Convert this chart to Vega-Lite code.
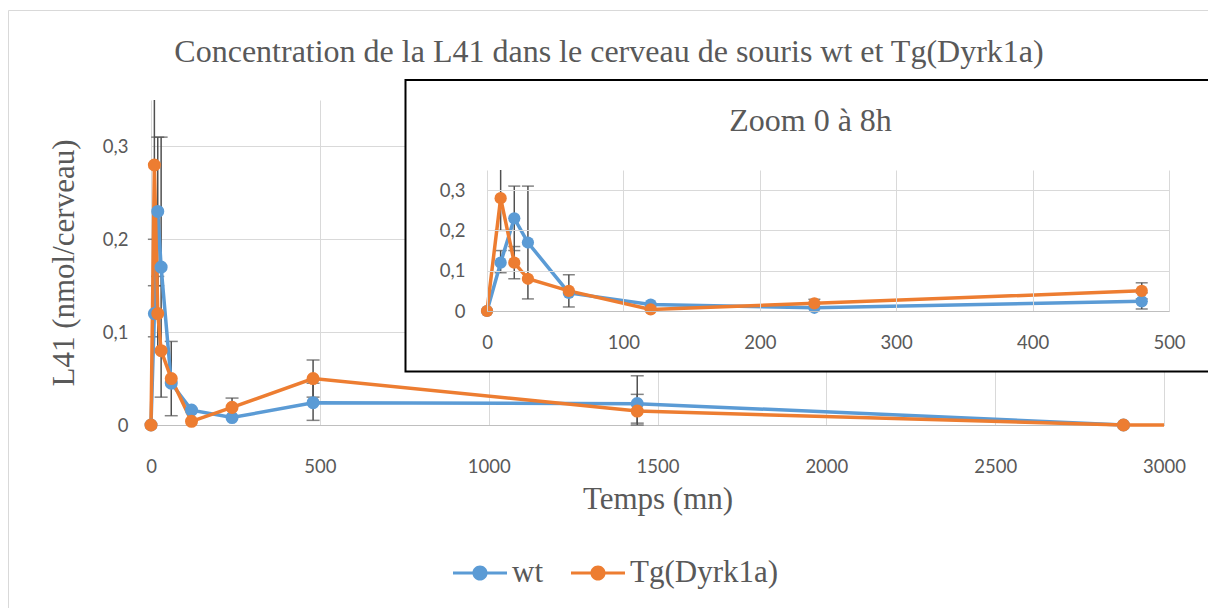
{
  "$schema": "https://vega.github.io/schema/vega-lite/v6.json",
  "background": "white",
  "width": 1013,
  "height": 325,
  "autosize": {"type": "none"},
  "padding": {"left": 151, "top": 100, "right": 44, "bottom": 183},
  "title": {
    "text": "Concentration de la L41 dans le cerveau de souris wt et Tg(Dyrk1a)",
    "font": "Liberation Serif", "fontSize": 32, "fontWeight": "normal", "color": "#595959",
    "anchor": "middle", "frame": "group", "dx": -48.5, "baseline": "alphabetic", "offset": -84
  },
  "datasets": {
    "d": [
      {"t": 0, "serie": "wt", "v": 0, "lo": 0, "hi": 0},
      {"t": 10, "serie": "wt", "v": 0.12, "lo": 0.095, "hi": 0.15},
      {"t": 20, "serie": "wt", "v": 0.23, "lo": 0.15, "hi": 0.31},
      {"t": 30, "serie": "wt", "v": 0.17, "lo": 0.03, "hi": 0.31},
      {"t": 60, "serie": "wt", "v": 0.045, "lo": 0.045, "hi": 0.045},
      {"t": 120, "serie": "wt", "v": 0.016, "lo": 0.016, "hi": 0.016},
      {"t": 240, "serie": "wt", "v": 0.008, "lo": 0.008, "hi": 0.008},
      {"t": 480, "serie": "wt", "v": 0.024, "lo": 0.005, "hi": 0.045},
      {"t": 1440, "serie": "wt", "v": 0.023, "lo": 0.002, "hi": 0.053},
      {"t": 2880, "serie": "wt", "v": 0, "lo": 0, "hi": 0},
      {"t": 0, "serie": "Tg(Dyrk1a)", "v": 0, "lo": 0, "hi": 0},
      {"t": 10, "serie": "Tg(Dyrk1a)", "v": 0.28, "lo": 0.2, "hi": 0.36},
      {"t": 20, "serie": "Tg(Dyrk1a)", "v": 0.12, "lo": 0.08, "hi": 0.16},
      {"t": 30, "serie": "Tg(Dyrk1a)", "v": 0.08, "lo": 0.08, "hi": 0.08},
      {"t": 60, "serie": "Tg(Dyrk1a)", "v": 0.05, "lo": 0.01, "hi": 0.09},
      {"t": 120, "serie": "Tg(Dyrk1a)", "v": 0.004, "lo": 0.004, "hi": 0.004},
      {"t": 240, "serie": "Tg(Dyrk1a)", "v": 0.019, "lo": 0.009, "hi": 0.029},
      {"t": 480, "serie": "Tg(Dyrk1a)", "v": 0.05, "lo": 0.03, "hi": 0.07},
      {"t": 1440, "serie": "Tg(Dyrk1a)", "v": 0.015, "lo": 0.0, "hi": 0.033},
      {"t": 2880, "serie": "Tg(Dyrk1a)", "v": 0, "lo": 0, "hi": 0},
      {"t": 3000, "serie": "Tg(Dyrk1a)", "v": 0, "lo": 0, "hi": 0}
    ]
  },
  "data": {"name": "d"},
  "resolve": {"scale": {"x": "independent", "y": "independent"}},
  "layer": [
    {
      "layer": [
        {
          "data": {"values": [{"box": "chart"}]},
          "mark": {"type": "rect", "fillOpacity": 0, "stroke": "#d9d9d9", "strokeWidth": 1},
          "encoding": {
            "x": {"datum": -422, "type": "quantitative", "scale": {"domain": [0, 3000], "nice": false}},
            "x2": {"datum": 3160},
            "y": {"datum": 0.4464, "type": "quantitative", "scale": {"domain": [0, 0.35], "nice": false}},
            "y2": {"datum": -0.22}
          }
        },
        {
          "transform": [{"filter": "datum.hi > datum.lo"}],
          "mark": {"type": "rule", "color": "#505050", "strokeWidth": 1.5, "clip": true},
          "encoding": {
            "x": {"field": "t", "type": "quantitative"},
            "y": {"field": "lo", "type": "quantitative"},
            "y2": {"field": "hi"}
          }
        },
        {
          "transform": [{"filter": "datum.hi > datum.lo"}],
          "mark": {"type": "tick", "orient": "horizontal", "color": "#505050", "size": 13, "thickness": 1.5},
          "encoding": {
            "x": {"field": "t", "type": "quantitative"},
            "y": {"field": "lo", "type": "quantitative"}
          }
        },
        {
          "transform": [{"filter": "datum.hi > datum.lo && datum.hi <= 0.35"}],
          "mark": {"type": "tick", "orient": "horizontal", "color": "#505050", "size": 13, "thickness": 1.5},
          "encoding": {
            "x": {"field": "t", "type": "quantitative"},
            "y": {"field": "hi", "type": "quantitative"}
          }
        },
        {
          "mark": {"type": "line", "strokeWidth": 3.5},
          "encoding": {
            "x": {"field": "t", "type": "quantitative",
              "axis": {"orient": "bottom", "values": [0, 500, 1000, 1500, 2000, 2500, 3000], "format": "d", "grid": true, "domain": true, "labelPadding": 47, "labelBaseline": "alphabetic", "labelFlush": false, "title": "Temps (mn)", "titleY": 83, "titleBaseline": "alphabetic"}},
            "y": {"field": "v", "type": "quantitative",
              "axis": {"orient": "left", "values": [0, 0.1, 0.2, 0.3], "grid": true, "domain": false, "labelPadding": 23, "labelExpr": "datum.value == 0 ? '0' : replace(format(datum.value, '.1f'), '.', ',')", "title": "L41 (nmol/cerveau)", "titleX": -77.5, "titleBaseline": "alphabetic", "titleAngle": 270}},
            "color": {"field": "serie", "type": "nominal", "scale": {"domain": ["wt", "Tg(Dyrk1a)"], "range": ["#5B9BD5", "#ED7D31"]}}
          }
        },
        {
          "transform": [{"filter": "datum.t <= 2880"}],
          "mark": {"type": "point", "filled": true, "opacity": 1, "size": 170, "shape": "circle"},
          "encoding": {
            "x": {"field": "t", "type": "quantitative"},
            "y": {"field": "v", "type": "quantitative"},
            "color": {"field": "serie", "type": "nominal",
              "legend": {"orient": "none", "legendX": 302, "legendY": 446, "direction": "horizontal", "title": null,
                "symbolType": "M-1,-0.056H1V0.056H-1Z M-0.28,0A0.28,0.28,0,1,1,0.28,0A0.28,0.28,0,1,1,-0.28,0Z",
                "symbolSize": 2916, "symbolStrokeWidth": 0, "labelFont": "Liberation Serif", "labelFontSize": 31, "labelColor": "#595959", "labelOffset": 5, "columnPadding": 28}}
          }
        },
        {
          "data": {"values": [{"box": "zoom"}]},
          "mark": {"type": "rect", "fill": "white", "stroke": "black", "strokeWidth": 2},
          "encoding": {
            "x": {"datum": 753.7, "type": "quantitative"},
            "x2": {"datum": 3160},
            "y": {"datum": 0.3715, "type": "quantitative"},
            "y2": {"datum": 0.0576}
          }
        }
      ]
    },
    {
      "transform": [{"filter": "datum.t <= 500"}],
      "resolve": {"axis": {"x": "independent"}},
      "layer": [
        {
          "transform": [{"filter": "datum.hi > datum.lo"}],
          "mark": {"type": "rule", "color": "#505050", "strokeWidth": 1.5},
          "encoding": {
            "x": {"field": "t", "type": "quantitative", "scale": {"domain": [0, 500], "range": [336, 1018], "nice": false}, "axis": null},
            "y": {"field": "lo", "type": "quantitative", "scale": {"domain": [0, 0.35], "range": [211, 70], "nice": false, "clamp": true}},
            "y2": {"field": "hi"}
          }
        },
        {
          "transform": [{"filter": "datum.hi > datum.lo"}],
          "mark": {"type": "tick", "orient": "horizontal", "color": "#505050", "size": 12, "thickness": 1.5},
          "encoding": {
            "x": {"field": "t", "type": "quantitative", "axis": null},
            "y": {"field": "lo", "type": "quantitative"}
          }
        },
        {
          "transform": [{"filter": "datum.hi > datum.lo && datum.hi <= 0.35"}],
          "mark": {"type": "tick", "orient": "horizontal", "color": "#505050", "size": 12, "thickness": 1.5},
          "encoding": {
            "x": {"field": "t", "type": "quantitative", "axis": null},
            "y": {"field": "hi", "type": "quantitative"}
          }
        },
        {
          "mark": {"type": "line", "strokeWidth": 3.5},
          "encoding": {
            "x": {"field": "t", "type": "quantitative",
              "axis": {"orient": "bottom", "offset": -114, "zindex": 1, "values": [0, 100, 200, 300, 400, 500], "format": "d", "grid": false, "domain": true, "labelPadding": 37, "labelBaseline": "alphabetic", "labelFlush": false, "title": null}},
            "y": {"field": "v", "type": "quantitative",
              "axis": {"orient": "left", "offset": -336, "zindex": 1, "values": [0, 0.1, 0.2, 0.3], "grid": true, "domain": false, "labelPadding": 22, "labelExpr": "datum.value == 0 ? '0' : replace(format(datum.value, '.1f'), '.', ',')", "title": null}},
            "color": {"field": "serie", "type": "nominal"}
          }
        },
        {
          "mark": {"type": "point", "filled": true, "opacity": 1, "size": 150, "shape": "circle"},
          "encoding": {
            "x": {"field": "t", "type": "quantitative",
              "axis": {"orient": "top", "offset": -70, "zindex": 1, "values": [0, 100, 200, 300, 400, 500], "grid": true, "domain": false, "labels": false, "title": "Zoom 0 à 8h", "titleFontSize": 32, "titleX": 659, "titleY": -40, "titleBaseline": "alphabetic", "titleAlign": "center", "titleAngle": 0}},
            "y": {"field": "v", "type": "quantitative"},
            "color": {"field": "serie", "type": "nominal"}
          }
        }
      ]
    }
  ],
  "config": {
    "view": {"stroke": null},
    "axis": {"labelFont": "Lato", "labelFontSize": 18.5, "labelColor": "#595959", "titleFont": "Liberation Serif", "titleFontSize": 31, "titleFontWeight": "normal", "titleColor": "#595959", "gridColor": "#d9d9d9", "gridWidth": 1, "domainColor": "#bfbfbf", "ticks": false, "tickSize": 0}
  }
}
